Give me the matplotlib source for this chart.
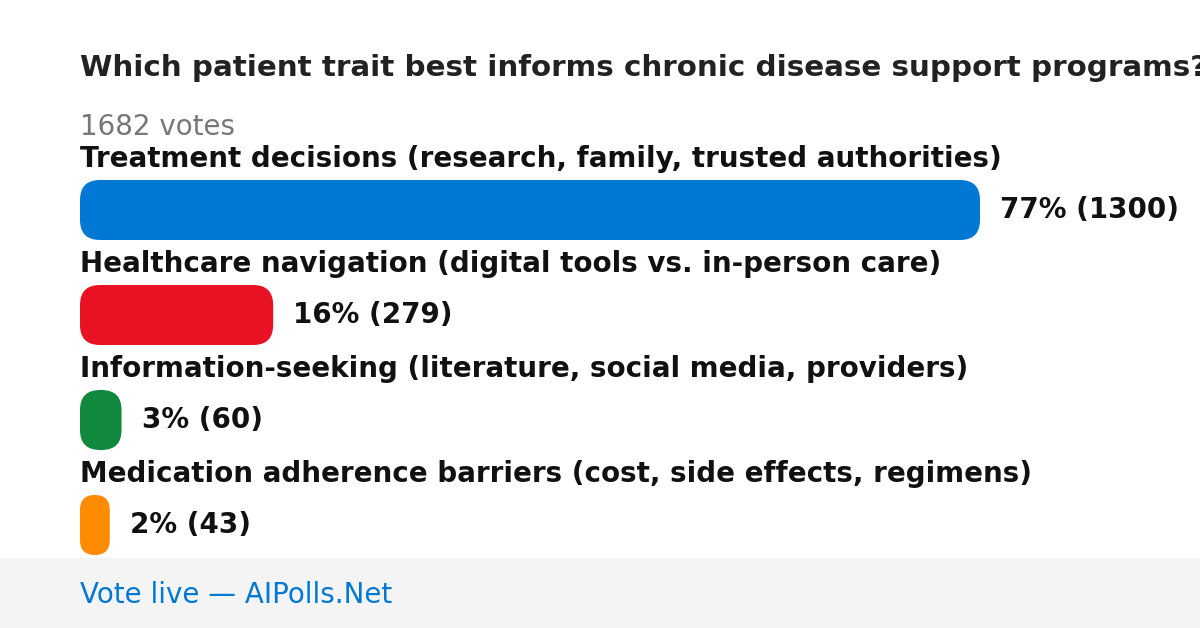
import matplotlib
matplotlib.use('Agg')
import matplotlib.pyplot as plt
from matplotlib.patches import FancyBboxPatch, Rectangle

plt.rcParams['font.family'] = ['DejaVu Sans']

TITLE = 'Which patient trait best informs chronic disease support programs?'
TOTAL = 1682
OPTIONS = [
    'Treatment decisions (research, family, trusted authorities)',
    'Healthcare navigation (digital tools vs. in-person care)',
    'Information-seeking (literature, social media, providers)',
    'Medication adherence barriers (cost, side effects, regimens)',
]
VOTES = [1300, 279, 60, 43]
PCTS = [77, 16, 3, 2]
COLORS = ['#0078d4', '#e81224', '#10893e', '#ff8c00']

W, H = 1200, 628
X0 = 80
MAXLEN = 900   # px length of the leading bar

fig = plt.figure(figsize=(W / 100, H / 100), dpi=100)
ax = fig.add_axes([0, 0, 1, 1])
ax.set_xlim(0, W)
ax.set_ylim(H, 0)   # pixel coords, y down
ax.axis('off')

ax.text(X0, 68, TITLE, fontsize=21.2, fontweight='bold', color='#222222', va='center', ha='left')
ax.text(X0, 127, f'{TOTAL} votes', fontsize=20, color='#777777', va='center', ha='left')

for i, (lab, v, p, c) in enumerate(zip(OPTIONS, VOTES, PCTS, COLORS)):
    ty = 159 + i * 105
    by = 180 + i * 105
    ax.text(X0, ty, lab, fontsize=20, fontweight='bold', color='#111111', va='center', ha='left')
    w = v / max(VOTES) * MAXLEN
    r = min(20, w / 2)
    ax.add_patch(FancyBboxPatch((X0, by), w, 60, boxstyle=f'round,pad=0,rounding_size={r}',
                                facecolor=c, edgecolor='none'))
    ax.text(X0 + w + 20, by + 30, f'{p}% ({v})', fontsize=20, fontweight='bold',
            color='#111111', va='center', ha='left')

# footer band
ax.add_patch(Rectangle((0, 558), W, 70, facecolor='#f4f4f4', edgecolor='none'))
ax.text(X0, 595, 'Vote live \u2014 AIPolls.Net', fontsize=20, color='#0078d4', va='center', ha='left')

fig.savefig('out.png', dpi=100)
